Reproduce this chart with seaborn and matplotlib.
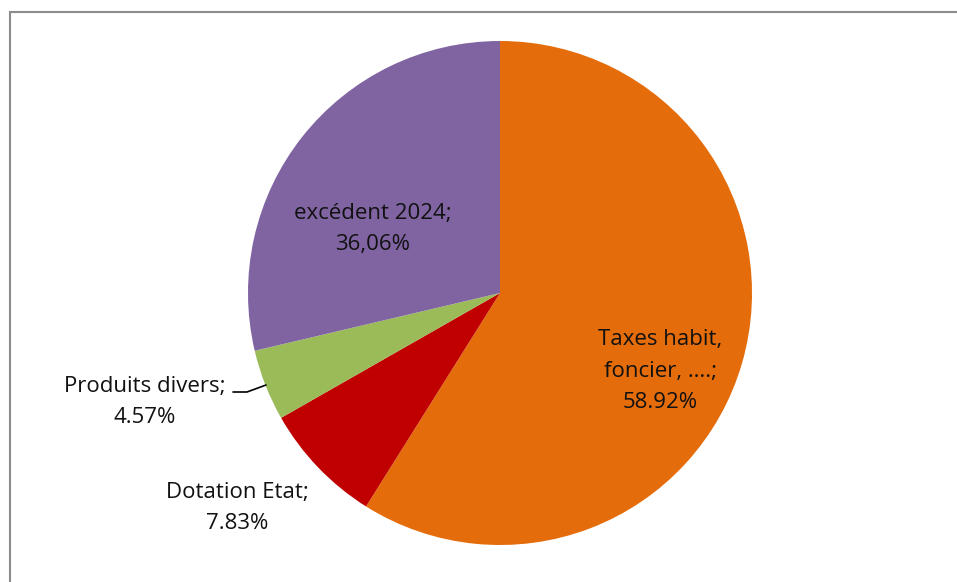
import matplotlib
matplotlib.use("Agg")
import matplotlib.pyplot as plt
import seaborn as sns
from matplotlib.patches import Rectangle

# slice data (clockwise from the top)
categories = ["Taxes habit,\nfoncier, ….;", "Dotation Etat;", "Produits divers;", "excédent 2024;"]
shares = [58.92, 7.83, 4.57, 28.68]          # visible slice sizes
pct_labels = ["58.92%", "7.83%", "4.57%", "36,06%"]
colors = ["#E46C0A", "#C00000", "#9BBB59", "#8064A2"]

sns.set_theme(style="white")
plt.rcParams['font.family'] = ['Open Sans', 'DejaVu Sans']

W, H = 957, 582
fig = plt.figure(figsize=(W / 100, H / 100), dpi=100)
ax = fig.add_axes([0, 0, 1, 1])

cx, cy, r = 500, H - 293, 252
ax.pie(shares, colors=colors, startangle=90, counterclock=False,
       center=(cx, cy), radius=r, wedgeprops=dict(linewidth=0))
ax.set_xlim(0, W)
ax.set_ylim(0, H)
ax.set_aspect('equal')
ax.axis('off')

# chart frame (only top and left edges are visible in the crop)
ax.add_patch(Rectangle((10, -20), W + 40, H - 12 + 20, fill=False,
                       edgecolor="#8c8c8c", linewidth=1.5, clip_on=False))

# data labels: (x, y) centre of the label block in pixels from the top
label_pos = [(660, 371), (237, 508), (145, 402), (373, 229)]
for cat, pct, (lx, ly) in zip(categories, pct_labels, label_pos):
    ax.text(lx, H - ly, f"{cat}\n{pct}", ha="center", va="center",
            fontsize=16, color="#111111", linespacing=1.65)

# leader line for "Produits divers"
ax.plot([233, 247, 266], [H - 392, H - 392, H - 385], color="black", linewidth=1.2)

fig.savefig("out.png", dpi=100, facecolor="white")
